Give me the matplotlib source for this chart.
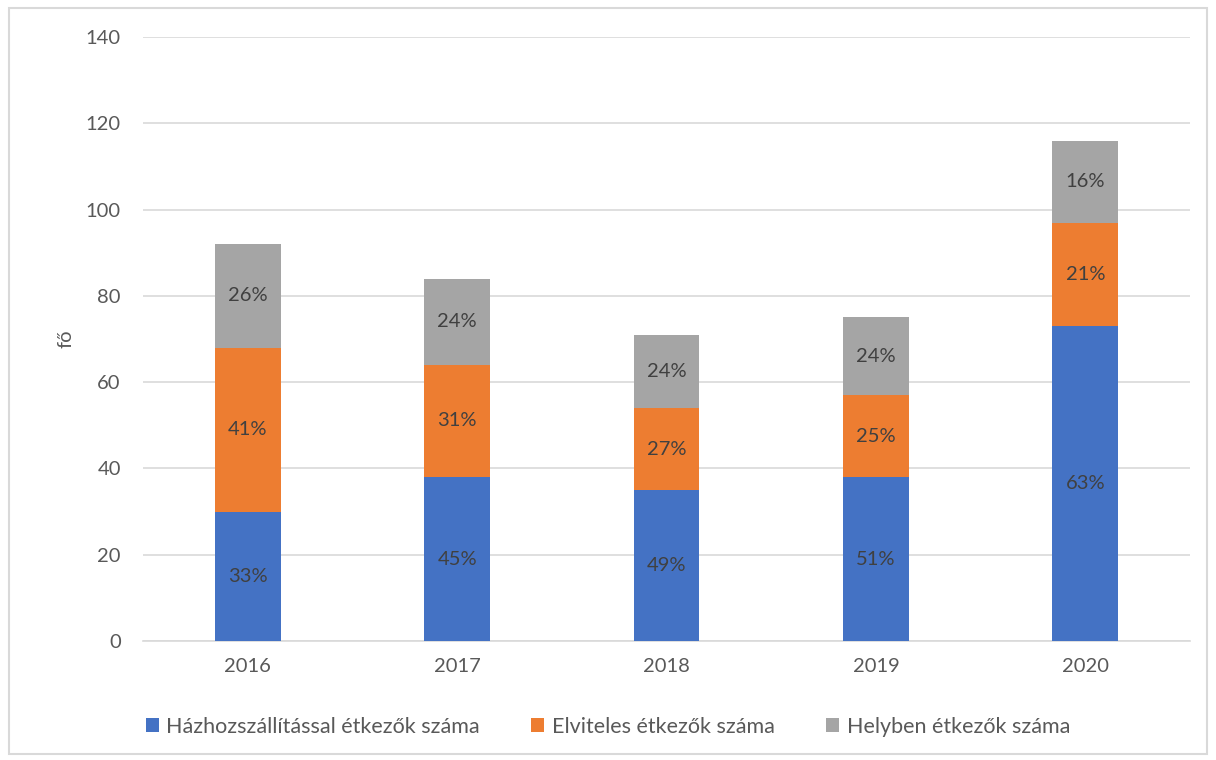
import matplotlib.pyplot as plt
from matplotlib.patches import Rectangle

years = ['2016', '2017', '2018', '2019', '2020']
hazhoz = [30, 38, 35, 38, 73]
elviteles = [38, 26, 19, 19, 24]
helyben = [24, 20, 17, 18, 19]
series_names = ['Házhozszállítással étkezők száma', 'Elviteles étkezők száma', 'Helyben étkezők száma']
colors = ['#4472C4', '#ED7D31', '#A5A5A5']
text_color = '#595959'

plt.rcParams['font.family'] = ['Lato', 'DejaVu Sans']
fs = 14.5

fig = plt.figure(figsize=(12.16, 7.6), dpi=100)
ax = fig.add_axes([0.1176, 0.1566, 0.861, 0.7947])

x = range(len(years))
totals = [a + b + c for a, b, c in zip(hazhoz, elviteles, helyben)]
bottom = [0] * len(years)
for vals, name, col in zip([hazhoz, elviteles, helyben], series_names, colors):
    bars = ax.bar(x, vals, width=0.314, bottom=bottom, color=col, label=name, zorder=3)
    labels = [f"{round(v / t * 100)}%" for v, t in zip(vals, totals)]
    ax.bar_label(bars, labels=labels, label_type='center', fontsize=fs, color='#404040')
    bottom = [b + v for b, v in zip(bottom, vals)]

ax.set_xlim(-0.5, 4.5)
ax.set_ylim(0, 140)
ax.set_yticks(range(0, 141, 20))
ax.set_xticks(list(x))
ax.set_xticklabels(years)
ax.grid(axis='y', color='#D9D9D9', linewidth=1.2, zorder=0)
for s in ['top', 'right', 'left']:
    ax.spines[s].set_visible(False)
ax.spines['bottom'].set_color('#D9D9D9')
ax.spines['bottom'].set_linewidth(1.2)
ax.tick_params(axis='both', length=0, labelsize=fs, colors=text_color)
ax.tick_params(axis='y', pad=16)
ax.tick_params(axis='x', pad=12)
ax.set_ylabel('fő', fontsize=fs, color=text_color, labelpad=8)

fig.legend(loc='center', bbox_to_anchor=(0.5, 0.044), ncol=3, frameon=False,
           fontsize=15.5, labelcolor=text_color, handlelength=0.6, handleheight=0.6,
           handletextpad=0.35, columnspacing=2.4)

fig.patches.append(Rectangle((0.007, 0.008), 0.986, 0.982, transform=fig.transFigure,
                             fill=False, edgecolor='#D9D9D9', linewidth=1.5))

fig.savefig('out.png', dpi=100)
